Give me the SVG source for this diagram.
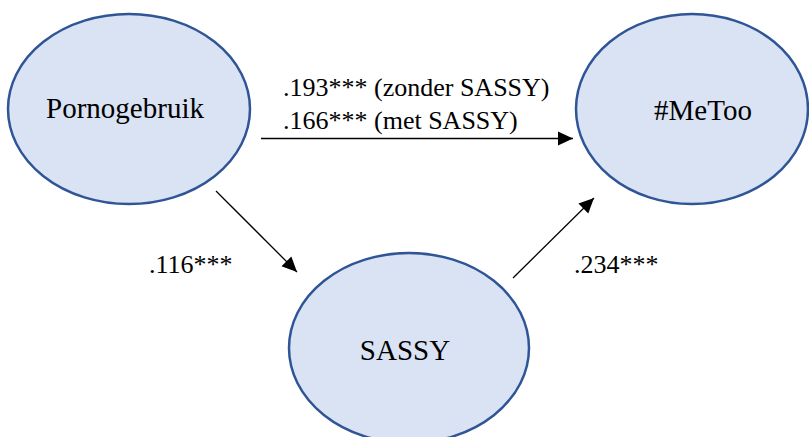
<svg xmlns="http://www.w3.org/2000/svg" width="809" height="437" viewBox="0 0 809 437">
<style>
.node{fill:#DAE3F3;stroke:#2F5597;stroke-width:2.5}
.edge{stroke:#000;stroke-width:1.3;fill:none}
</style>
<defs>
<marker id="ah" markerUnits="userSpaceOnUse" markerWidth="16" markerHeight="16" viewBox="0 0 16 16" refX="15" refY="8" orient="auto">
<path d="M0,1 L15,8 L0,15 Z" fill="#000"/>
</marker>
</defs>
<rect width="809" height="437" fill="#fff"/>
<g id="node-pornogebruik">
<ellipse class="node" cx="129" cy="109" rx="121" ry="95"/>
<text x="125" y="118" font-family="Liberation Serif, serif" font-size="29" text-anchor="middle">Pornogebruik</text>
</g>
<g id="node-metoo">
<ellipse class="node" cx="692" cy="109" rx="116" ry="95"/>
<text x="703" y="120" font-family="Liberation Serif, serif" font-size="29" text-anchor="middle">#MeToo</text>
</g>
<g id="node-sassy">
<ellipse class="node" cx="409" cy="348" rx="120" ry="95"/>
<text x="405" y="360" font-family="Liberation Serif, serif" font-size="29" text-anchor="middle">SASSY</text>
</g>
<g id="connectors">
<line class="edge" x1="261" y1="138.5" x2="573" y2="138.5" marker-end="url(#ah)"/>
<line class="edge" x1="216" y1="191" x2="297" y2="272" marker-end="url(#ah)"/>
<line class="edge" x1="513" y1="278" x2="594" y2="198" marker-end="url(#ah)"/>
<text x="283" y="96" font-family="Liberation Serif, serif" font-size="26">.193*** (zonder SASSY)</text>
<text x="283" y="129" font-family="Liberation Serif, serif" font-size="26">.166*** (met SASSY)</text>
<text x="149" y="273" font-family="Liberation Serif, serif" font-size="26">.116***</text>
<text x="574" y="273" font-family="Liberation Serif, serif" font-size="26">.234***</text>
</g>
</svg>
